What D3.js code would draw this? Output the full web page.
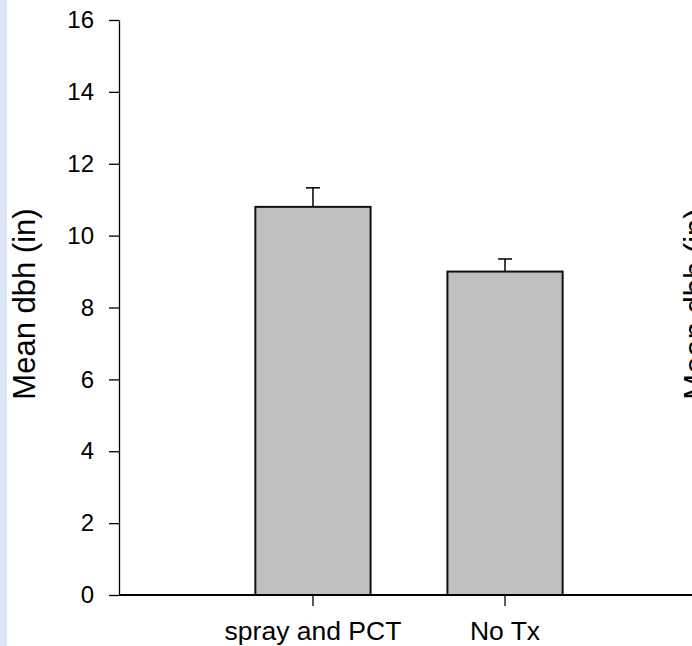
<!DOCTYPE html>
<html>
<head>
<meta charset="utf-8">
<script src="https://cdn.jsdelivr.net/npm/d3@7"></script>
<style>
  body { margin: 0; background: #fff; }
  svg text { font-family: "Liberation Sans", Arial, sans-serif; fill: #000; }
</style>
</head>
<body>
<div id="chart"></div>
<script>
document.addEventListener("DOMContentLoaded", function () {
  const width = 692,
      height = 646;

  // data
  const categories = ["spray and PCT", "No Tx"];
  const means = [10.8, 9.0];
  const errors = [0.53, 0.35];
  const yTicks = [0, 2, 4, 6, 8, 10, 12, 14, 16];
  const yLabel = "Mean dbh (in)";

  const left = 119, right = 699, top = 20, bottom = 595;

  const svg = d3.select("#chart").append("svg")
      .attr("width", width)
      .attr("height", height);

  // light blue strip on the left edge
  svg.append("rect")
    .attr("x", 0).attr("y", 0)
    .attr("width", 7).attr("height", height)
    .attr("fill", "#dde6f5");

  const x = d3.scaleBand()
    .domain(categories)
    .range([left, right])
    .paddingInner(0.4)
    .paddingOuter(0.71);

  const y = d3.scaleLinear()
    .domain([0, 16])
    .range([bottom, top]);

  // y axis
  const yAxis = svg.append("g")
    .attr("transform", `translate(${left},0)`)
    .call(d3.axisLeft(y).tickValues(yTicks).tickSize(10).tickPadding(15).tickSizeOuter(0));
  yAxis.select(".domain").attr("stroke", "#000").attr("stroke-width", 1.3);
  yAxis.selectAll(".tick line").attr("stroke", "#000").attr("stroke-width", 1.3);
  yAxis.selectAll(".tick text")
    .attr("font-size", null)
    .style("font-size", "24px")
    .attr("fill", "#000");

  // bars
  const bw = x.bandwidth();
  svg.selectAll(".bar")
    .data(categories)
    .enter().append("rect")
    .attr("class", "bar")
    .attr("x", d => x(d))
    .attr("y", (d, i) => y(means[i]))
    .attr("width", bw)
    .attr("height", (d, i) => y(0) - y(means[i]))
    .attr("fill", "#c0c0c0")
    .attr("stroke", "#111")
    .attr("stroke-width", 2);

  // error bars (upper only)
  svg.selectAll(".err")
    .data(categories)
    .enter().append("line")
    .attr("class", "err")
    .attr("x1", d => x(d) + bw / 2)
    .attr("x2", d => x(d) + bw / 2)
    .attr("y1", (d, i) => y(means[i]))
    .attr("y2", (d, i) => y(means[i] + errors[i]))
    .attr("stroke", "#000")
    .attr("stroke-width", 1.5);

  svg.selectAll(".cap")
    .data(categories)
    .enter().append("line")
    .attr("class", "cap")
    .attr("x1", d => x(d) + bw / 2 - 7)
    .attr("x2", d => x(d) + bw / 2 + 7)
    .attr("y1", (d, i) => y(means[i] + errors[i]))
    .attr("y2", (d, i) => y(means[i] + errors[i]))
    .attr("stroke", "#000")
    .attr("stroke-width", 1.5);

  // x axis
  svg.append("line")
    .attr("x1", left).attr("x2", right)
    .attr("y1", bottom).attr("y2", bottom)
    .attr("stroke", "#000").attr("stroke-width", 2);

  svg.selectAll(".xtick")
    .data(categories)
    .enter().append("line")
    .attr("class", "xtick")
    .attr("x1", d => x(d) + bw / 2)
    .attr("x2", d => x(d) + bw / 2)
    .attr("y1", bottom)
    .attr("y2", bottom + 11)
    .attr("stroke", "#000").attr("stroke-width", 1.3);

  svg.selectAll(".xlabel")
    .data(categories)
    .enter().append("text")
    .attr("class", "xlabel")
    .attr("x", d => x(d) + bw / 2)
    .attr("y", 640)
    .attr("text-anchor", "middle")
    .style("font-size", "26.5px")
    .text(d => d);

  // axis title
  svg.append("text")
    .attr("transform", "translate(35,304) rotate(-90)")
    .attr("text-anchor", "middle")
    .style("font-size", "31px")
    .text(yLabel);

  // clipped title of the neighbouring panel
  svg.append("text")
    .attr("transform", "translate(706,304) rotate(-90)")
    .attr("text-anchor", "middle")
    .style("font-size", "31px")
    .text(yLabel);
});
</script>
</body>
</html>
